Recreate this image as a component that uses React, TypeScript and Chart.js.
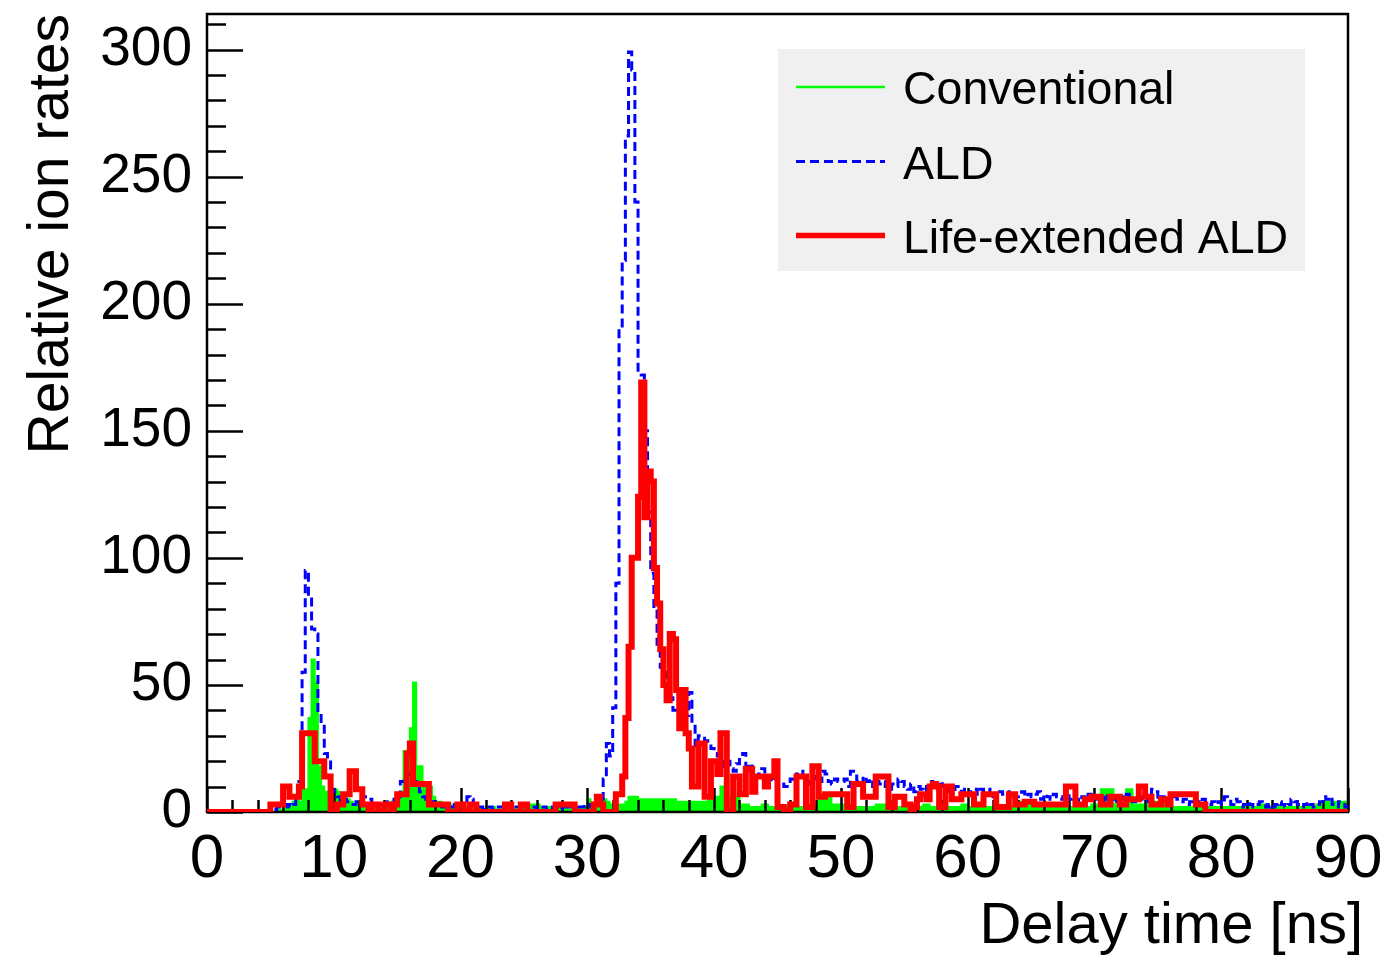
import React, { useEffect, useRef } from 'react';
import { Chart, registerables } from 'chart.js';

Chart.register(...registerables);

const FONT = '"Liberation Sans", Arial, Helvetica, sans-serif';

// ---- axis definition ----
const BIN_WIDTH = 0.25; // ns per histogram bin
const X_MIN = 0;
const X_MAX = 90;
const Y_MIN = 0;
const Y_MAX = 314;
const X_TICKS = [0, 10, 20, 30, 40, 50, 60, 70, 80, 90];
const Y_TICKS = [0, 50, 100, 150, 200, 250, 300];
const X_MINOR_STEP = 2;
const Y_MINOR_STEP = 10;
const X_TITLE = 'Delay time [ns]';
const Y_TITLE = 'Relative ion rates';

const SERIES_NAMES = ['Conventional', 'ALD', 'Life-extended ALD'];

// ---- histogram contents, one value per 0.25 ns bin (20 bins = 5 ns per row) ----
const CONVENTIONAL = [
  0, 0, 0, 0, 0, 0, 0, 0, 0, 0, 0, 0, 0, 0, 0, 0, 0, 0, 0, 0,
  0, 0, 1, 1, 2, 3, 3, 4, 5, 4, 9, 9, 37, 60, 51, 18, 10, 8, 8, 9,
  9, 8, 7, 6, 5, 4, 3, 4, 3, 3, 2, 3, 2, 2, 3, 2, 3, 3, 4, 5,
  6, 8, 24, 24, 33, 51, 18, 18, 10, 10, 10, 6, 4, 4, 3, 3, 3, 2, 2, 2,
  2, 2, 2, 1, 1, 2, 1, 1, 2, 2, 2, 1, 1, 1, 1, 2, 2, 1, 1, 1,
  1, 2, 3, 3, 3, 2, 2, 2, 2, 1, 1, 2, 2, 2, 1, 1, 2, 2, 1, 2,
  5, 3, 2, 5, 5, 5, 4, 3, 2, 2, 3, 3, 4, 6, 6, 6, 5, 5, 5, 5,
  5, 5, 5, 5, 5, 5, 5, 5, 4, 4, 4, 4, 4, 4, 4, 4, 4, 4, 6, 6,
  6, 6, 10, 10, 6, 6, 6, 6, 3, 3, 3, 2, 2, 2, 2, 3, 3, 2, 2, 2,
  2, 2, 2, 2, 2, 2, 2, 2, 2, 2, 2, 2, 2, 6, 6, 6, 6, 3, 3, 3,
  3, 3, 3, 2, 2, 2, 2, 2, 2, 2, 2, 3, 3, 3, 2, 2, 2, 2, 2, 2,
  2, 2, 2, 2, 2, 2, 3, 3, 2, 2, 2, 2, 2, 2, 2, 2, 2, 2, 3, 3,
  2, 2, 2, 2, 2, 2, 2, 2, 2, 2, 2, 2, 2, 2, 2, 2, 4, 4, 4, 4,
  4, 2, 2, 2, 2, 2, 2, 2, 2, 2, 2, 2, 2, 2, 2, 2, 2, 2, 2, 3,
  3, 3, 9, 9, 9, 9, 3, 3, 3, 3, 9, 9, 3, 3, 3, 3, 3, 3, 3, 4,
  4, 4, 2, 2, 2, 2, 2, 2, 2, 2, 2, 2, 2, 2, 2, 2, 2, 2, 2, 2,
  2, 2, 2, 2, 2, 2, 2, 2, 2, 2, 2, 2, 3, 3, 3, 2, 2, 2, 2, 2,
  2, 2, 2, 2, 2, 2, 2, 2, 2, 2, 3, 4, 4, 4, 4, 4, 4, 4, 4, 4,
];

const ALD = [
  0, 0, 0, 0, 0, 0, 0, 0, 0, 0, 0, 0, 0, 0, 0, 0, 0, 0, 0, 0,
  0, 1, 2, 2, 2, 3, 2, 3, 5, 12, 55, 95, 85, 72, 70, 38, 35, 23, 21, 9,
  8, 6, 4, 5, 4, 3, 3, 4, 5, 6, 6, 5, 3, 2, 3, 2, 3, 4, 3, 5,
  6, 12, 14, 15, 14, 12, 10, 8, 6, 5, 5, 4, 3, 3, 2, 3, 2, 2, 3, 2,
  2, 3, 6, 5, 3, 2, 2, 1, 2, 2, 1, 2, 2, 2, 3, 2, 1, 2, 2, 1,
  2, 1, 2, 2, 1, 2, 2, 1, 1, 2, 2, 1, 2, 2, 3, 2, 3, 2, 2, 3,
  3, 2, 4, 6, 5, 13, 27, 22, 41, 90, 190, 217, 266, 299, 292, 240, 173, 172, 150, 118,
  94, 80, 66, 57, 55, 48, 45, 40, 38, 35, 33, 38, 47, 35, 26, 30, 30, 28, 27, 25,
  23, 22, 20, 18, 20, 17, 16, 19, 22, 23, 18, 19, 16, 14, 15, 17, 15, 14, 12, 13,
  12, 11, 10, 10, 13, 12, 15, 16, 14, 12, 11, 13, 14, 12, 16, 15, 12, 11, 13, 12,
  12, 13, 10, 16, 15, 12, 11, 14, 12, 13, 10, 12, 11, 12, 10, 9, 11, 10, 13, 12,
  10, 9, 11, 8, 10, 9, 8, 10, 12, 11, 9, 12, 10, 8, 9, 8, 10, 9, 8, 9,
  7, 8, 9, 7, 9, 8, 7, 9, 6, 7, 8, 7, 6, 8, 7, 6, 7, 8, 6, 7,
  6, 7, 8, 5, 7, 6, 5, 7, 6, 5, 6, 7, 5, 6, 5, 4, 6, 5, 7, 5,
  6, 5, 4, 7, 5, 6, 5, 4, 6, 5, 7, 5, 4, 6, 5, 6, 5, 4, 9, 8,
  5, 6, 4, 5, 4, 6, 5, 4, 5, 3, 4, 5, 4, 3, 5, 4, 3, 4, 3, 4,
  3, 6, 5, 3, 5, 4, 2, 3, 4, 3, 2, 3, 4, 3, 2, 3, 2, 3, 4, 3,
  2, 3, 5, 4, 3, 2, 3, 4, 3, 2, 3, 4, 6, 5, 6, 3, 2, 4, 3, 2,
];

const LIFE_EXTENDED_ALD = [
  0, 0, 0, 0, 0, 0, 0, 0, 0, 0, 0, 0, 0, 0, 0, 0, 0, 0, 0, 0,
  3, 3, 3, 3, 10, 10, 6, 6, 6, 10, 31, 31, 31, 31, 20, 20, 20, 14, 14, 0,
  0, 3, 3, 7, 7, 16, 16, 9, 9, 3, 3, 0, 3, 3, 0, 0, 3, 3, 0, 3,
  7, 7, 7, 23, 27, 11, 11, 11, 11, 11, 3, 3, 3, 3, 3, 3, 0, 0, 0, 3,
  3, 0, 0, 3, 3, 0, 0, 0, 0, 0, 0, 0, 0, 0, 3, 3, 0, 0, 0, 3,
  3, 0, 0, 0, 0, 0, 0, 0, 0, 0, 3, 3, 3, 3, 3, 3, 0, 0, 0, 0,
  0, 0, 3, 6, 3, 0, 0, 0, 0, 7, 7, 14, 37, 65, 100, 100, 124, 169, 116, 134,
  130, 96, 82, 64, 50, 44, 70, 68, 48, 33, 48, 31, 25, 10, 10, 27, 27, 6, 6, 20,
  20, 15, 31, 31, 0, 0, 14, 14, 7, 7, 17, 17, 8, 14, 14, 14, 10, 14, 14, 20,
  2, 2, 0, 0, 3, 3, 14, 14, 14, 2, 2, 18, 18, 6, 6, 7, 7, 7, 7, 7,
  7, 7, 2, 2, 11, 11, 11, 6, 6, 6, 6, 14, 14, 14, 14, 2, 2, 6, 6, 6,
  3, 3, 0, 2, 5, 7, 7, 5, 10, 11, 10, 2, 2, 10, 10, 5, 5, 5, 7, 7,
  7, 7, 3, 3, 3, 7, 7, 7, 7, 2, 2, 2, 2, 7, 7, 3, 3, 3, 4, 4,
  4, 3, 3, 3, 3, 3, 3, 3, 3, 3, 3, 10, 10, 10, 3, 3, 3, 5, 5, 6,
  6, 6, 3, 3, 3, 6, 6, 6, 3, 3, 5, 5, 5, 5, 10, 10, 6, 6, 3, 3,
  3, 5, 5, 3, 7, 7, 7, 7, 7, 7, 7, 7, 3, 3, 3, 0, 0, 0, 0, 0,
  0, 0, 0, 0, 0, 0, 0, 0, 0, 0, 0, 0, 0, 0, 0, 0, 0, 0, 0, 0,
  0, 0, 0, 0, 0, 0, 0, 0, 0, 0, 0, 0, 0, 0, 0, 0, 0, 0, 0, 0,
];

const COLORS = ['#00ff00', '#0000ff', '#ff0000'];

// histogram bins -> step points (value of point i holds over [x_i, x_i+1])
function toSteps(values: number[]) {
  const pts = values.map((v, i) => ({ x: X_MIN + i * BIN_WIDTH, y: v }));
  pts.push({ x: X_MIN + values.length * BIN_WIDTH, y: values[values.length - 1] });
  return pts;
}

const rootAxesPlugin = {
  id: 'rootAxes',
  afterDatasetDraw(chart: any, args: any) {
    if (args.index !== 0) return; // after the filled histogram, before the overlaid ones
    const { ctx, chartArea } = chart;
    const { left, right, top, bottom } = chartArea;
    const xs = chart.scales.x;
    const ys = chart.scales.y;
    ctx.save();
    ctx.strokeStyle = '#000000';
    ctx.lineWidth = 2.5;
    ctx.strokeRect(left, top, right - left, bottom - top);
    ctx.beginPath();
    for (let v = Y_MIN; v <= Y_MAX + 1e-9; v += Y_MINOR_STEP) {
      const py = Math.round(ys.getPixelForValue(v)) + 0.5;
      const len = Y_TICKS.includes(v) ? 36 : 19;
      ctx.moveTo(left, py);
      ctx.lineTo(left + len, py);
    }
    for (let v = X_MIN; v <= X_MAX + 1e-9; v += X_MINOR_STEP) {
      const px = Math.round(xs.getPixelForValue(v)) + 0.5;
      const len = X_TICKS.includes(v) ? 24 : 12;
      ctx.moveTo(px, bottom);
      ctx.lineTo(px, bottom - len);
    }
    ctx.stroke();
    ctx.restore();
  },
};

const rootLegendPlugin = {
  id: 'rootLegend',
  afterDraw(chart: any) {
    const { ctx } = chart;
    ctx.save();
    ctx.fillStyle = '#f0f0f0';
    ctx.fillRect(778, 49, 527, 222);
    const rowY = [87, 161.5, 235.5];
    const widths = [2.5, 3, 5.5];
    const dashes = [[], [9, 5], []];
    SERIES_NAMES.forEach((name, i) => {
      const y = rowY[i];
      ctx.beginPath();
      ctx.setLineDash(dashes[i]);
      ctx.strokeStyle = COLORS[i];
      ctx.lineWidth = widths[i];
      ctx.moveTo(796, y);
      ctx.lineTo(885, y);
      ctx.stroke();
      ctx.setLineDash([]);
      ctx.fillStyle = '#000000';
      ctx.font = `46.5px ${FONT}`;
      ctx.textAlign = 'left';
      ctx.textBaseline = 'alphabetic';
      ctx.fillText(name, 903, y + 17);
    });
    ctx.restore();
  },
};

export default function App() {
  const canvasRef = useRef<HTMLCanvasElement | null>(null);

  useEffect(() => {
    const canvas = canvasRef.current;
    if (!canvas) return;
    Chart.defaults.font.family = FONT;

    const chart = new Chart(canvas, {
      type: 'line',
      data: {
        datasets: [
          {
            label: SERIES_NAMES[0],
            data: toSteps(CONVENTIONAL),
            stepped: true,
            borderColor: COLORS[0],
            backgroundColor: COLORS[0],
            borderWidth: 2,
            fill: 'origin',
            pointRadius: 0,
            order: 3,
          },
          {
            label: SERIES_NAMES[1],
            data: toSteps(ALD),
            stepped: true,
            borderColor: COLORS[1],
            borderWidth: 3,
            borderDash: [9, 5],
            fill: false,
            pointRadius: 0,
            order: 2,
          },
          {
            label: SERIES_NAMES[2],
            data: toSteps(LIFE_EXTENDED_ALD),
            stepped: true,
            borderColor: COLORS[2],
            borderWidth: 6,
            borderJoinStyle: 'miter',
            fill: false,
            pointRadius: 0,
            order: 1,
          },
        ] as any,
      },
      options: {
        animation: false,
        responsive: false,
        devicePixelRatio: 1,
        layout: { padding: { top: 14, right: 37, bottom: 0, left: 0 } },
        plugins: {
          legend: { display: false },
          tooltip: { enabled: false },
        },
        elements: { point: { radius: 0 }, line: { tension: 0 } },
        scales: {
          x: {
            type: 'linear',
            min: X_MIN,
            max: X_MAX,
            grid: { display: false, drawTicks: false },
            border: { display: false },
            afterBuildTicks: (s: any) => {
              s.ticks = X_TICKS.map((v) => ({ value: v }));
            },
            ticks: {
              autoSkip: false,
              maxRotation: 0,
              minRotation: 0,
              padding: 17,
              color: '#000000',
              font: { family: FONT, size: 62, lineHeight: 1 },
              callback: (v: any) => String(v),
            },
            title: {
              display: true,
              text: X_TITLE,
              align: 'end',
              color: '#000000',
              font: { family: FONT, size: 58, lineHeight: 1 },
              padding: { top: 0, bottom: 1 },
            },
            afterFit: (s: any) => {
              s.height = 145;
              s.paddingLeft = 0;
              s.paddingRight = 0;
              if (!s.__titleShifted) {
                // the title's right end sits a little past the frame, as in the reference
                const orig = s.drawTitle.bind(s);
                s.drawTitle = () => {
                  s.ctx.save();
                  s.ctx.translate(15, 0);
                  orig();
                  s.ctx.restore();
                };
                s.__titleShifted = true;
              }
            },
          },
          y: {
            type: 'linear',
            min: Y_MIN,
            max: Y_MAX,
            grid: { display: false, drawTicks: false },
            border: { display: false },
            afterBuildTicks: (s: any) => {
              s.ticks = Y_TICKS.map((v) => ({ value: v }));
            },
            ticks: {
              autoSkip: false,
              padding: 15,
              color: '#000000',
              font: { family: FONT, size: 55, lineHeight: 1 },
              callback: (v: any) => String(v),
            },
            title: {
              display: true,
              text: Y_TITLE,
              align: 'end',
              color: '#000000',
              font: { family: FONT, size: 57, lineHeight: 1 },
              padding: { top: 24, bottom: 0 },
            },
            afterFit: (s: any) => {
              s.width = 207;
              s.paddingTop = 0;
              s.paddingBottom = 0;
            },
          },
        },
      } as any,
      plugins: [rootAxesPlugin, rootLegendPlugin],
    });

    return () => chart.destroy();
  }, []);

  return (
    <div style={{ position: 'fixed', left: 0, top: 0, width: 1385, height: 957, background: '#ffffff' }}>
      <canvas
        ref={canvasRef}
        width={1385}
        height={957}
        style={{ display: 'block', width: '1385px', height: '957px' }}
      />
    </div>
  );
}
